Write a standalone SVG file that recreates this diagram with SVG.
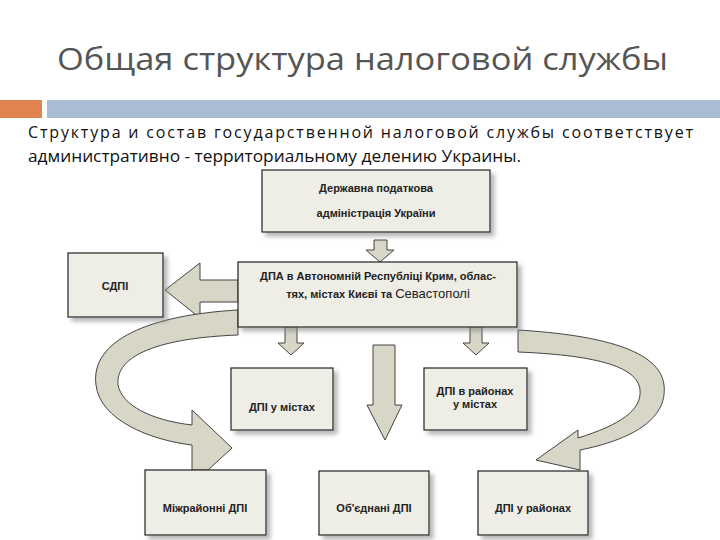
<svg xmlns="http://www.w3.org/2000/svg" width="720" height="540" viewBox="0 0 720 540">
<defs>
<style>
.box{fill:#eeede6;stroke:#222;stroke-width:1.2}
.t{font-family:"Liberation Sans",Arial,sans-serif;font-size:11px;font-weight:bold;fill:#222;text-anchor:middle}
.arr{fill:#d8d6c6;stroke:#444;stroke-width:1}
.body{font-family:"Open Sans","Liberation Sans",sans-serif;font-size:16px;fill:#111}
</style>
<filter id="sh" x="-10%" y="-10%" width="130%" height="130%"><feDropShadow dx="4" dy="4" stdDeviation="2" flood-color="#888" flood-opacity="0.6"/></filter>
</defs>
<rect width="720" height="540" fill="#fff"/>
<text x="57" y="70" font-family="'Open Sans','Liberation Sans',sans-serif" font-size="31" fill="#555" textLength="611" lengthAdjust="spacingAndGlyphs">Общая структура налоговой службы</text>
<rect x="0" y="100" width="42" height="18" fill="#e0834f"/>
<rect x="47" y="100" width="673" height="18" fill="#a9bcd3"/>
<text class="body" x="28" y="138" textLength="665" lengthAdjust="spacing">Структура  и  состав  государственной  налоговой  службы  соответствует</text>
<text class="body" x="28" y="162" textLength="493" lengthAdjust="spacingAndGlyphs">административно - территориальному делению Украины.</text>
<g id="connectors">
<path class="arr" d="M374,240 H387 V250 H394 L380,262 L366,250 H374 Z"/>
<path class="arr" d="M238,280 H200 V263 L165,290 L200,318 V302 H238 Z"/>
<path class="arr" d="M285,327 H297 V343 H304 L291,355 L278,343 H285 Z"/>
<path class="arr" d="M470,327 H482 V343 H489 L476,355 L463,343 H470 Z"/>
<path class="arr" d="M373,345 H395 V405 H402 L385,440 L367,405 H373 Z"/>
<path class="arr" d="M238,310 C150,315 90,340 96,385 C100,420 150,440 192,445 L192,470 L208,470 L232,448 L192,410 L192,425 C150,420 122,405 118,385 C115,355 160,338 238,335 Z"/>
<path class="arr" d="M518,330 C600,335 660,350 664,385 C668,420 630,440 580,450 L580,470 L536,460 L578,430 L578,438 C620,425 642,410 640,390 C638,365 590,355 518,352 Z"/>
</g>
<g id="n1" filter="url(#sh)"><rect class="box" x="262" y="170" width="228" height="62"/></g>
<g id="n1t"><text class="t" x="376" y="192">Державна податкова</text><text class="t" x="376" y="217">адміністрація України</text></g>
<g id="n2" filter="url(#sh)"><rect class="box" x="68" y="253" width="95" height="64"/></g>
<text class="t" x="115" y="290">СДПІ</text>
<g id="n3" filter="url(#sh)"><rect class="box" x="238" y="262" width="279" height="65"/></g>
<g><text class="t" x="378" y="280">ДПА в Автономній Республіці Крим, облас-</text><text class="t" x="378" y="298">тях, містах Києві та <tspan font-size="13" font-weight="normal">Севастополі</tspan></text></g>
<g id="n4" filter="url(#sh)"><rect class="box" x="231" y="368" width="102" height="62"/></g>
<text class="t" x="282" y="411">ДПІ у містах</text>
<g id="n5" filter="url(#sh)"><rect class="box" x="424" y="368" width="103" height="62"/></g>
<g><text class="t" x="475" y="395">ДПІ в районах</text><text class="t" x="475" y="408">у містах</text></g>
<g id="n6" filter="url(#sh)"><rect class="box" x="145" y="470" width="121" height="65"/></g>
<text class="t" x="205" y="512">Міжрайонні ДПІ</text>
<g id="n7" filter="url(#sh)"><rect class="box" x="319" y="471" width="110" height="64"/></g>
<text class="t" x="374" y="512">Об'єднані ДПІ</text>
<g id="n8" filter="url(#sh)"><rect class="box" x="478" y="471" width="110" height="64"/></g>
<text class="t" x="533" y="512">ДПІ у районах</text>
</svg>
